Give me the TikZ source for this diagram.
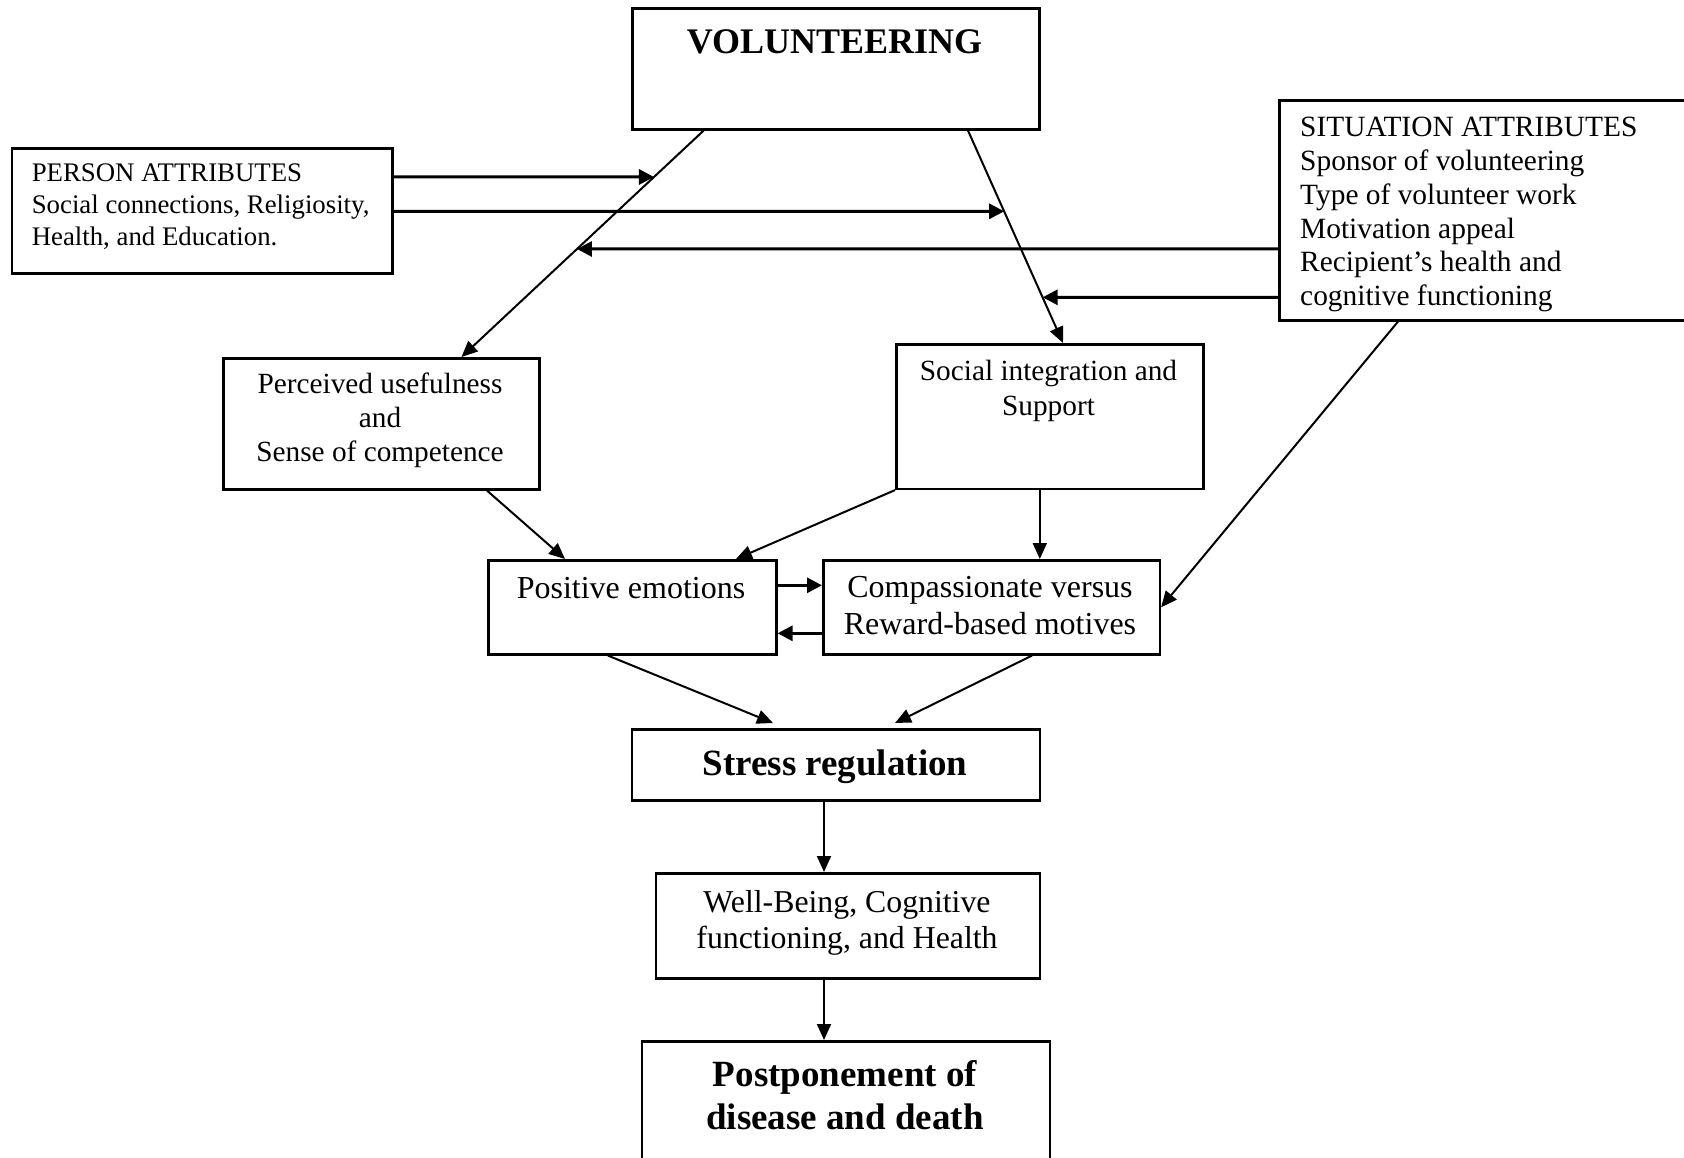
\documentclass[tikz,border=0pt]{standalone}
\usepackage{fontspec}
\setmainfont{Liberation Serif}
\usetikzlibrary{arrows.meta}
\begin{document}
\begin{tikzpicture}[x=1pt,y=-1pt,
 box/.style={draw, line width=2.6pt, inner sep=0pt, anchor=north west},
 txt/.style={inner sep=0pt, align=center},
 arr/.style={line width=2pt, -{Triangle[length=16pt,width=14pt]}},
 harr/.style={line width=3pt, -{Triangle[length=15pt,width=15pt]}}]
\useasboundingbox (0,0) rectangle (1684,1158);
\begin{scope}
\clip (0,0) rectangle (1684,1158);
% boxes
\node[box, minimum width=407pt, minimum height=121pt] (vol) at (631,7) {};
\node[box, minimum width=380.5pt, minimum height=125pt] (pa) at (10.5,147) {};
\node[box, minimum width=430pt, minimum height=220pt] (sa) at (1278,99) {};
\node[box, minimum width=316pt, minimum height=131pt] (pu) at (222,357) {};
\node[box, minimum width=307pt, minimum height=144.5pt] (si) at (895,343) {};
\node[box, minimum width=288pt, minimum height=94pt] (pe) at (487,559) {};
\node[box, minimum width=336.5pt, minimum height=94pt] (cm) at (822,559) {};
\node[box, minimum width=408pt, minimum height=71pt] (sr) at (630.7,728) {};
\node[box, minimum width=384pt, minimum height=105pt] (wb) at (654.7,872) {};
\node[box, minimum width=408pt, minimum height=160pt] (pd) at (640.7,1040) {};
% texts
\node[txt, anchor=base, font=\fontsize{36}{43}\selectfont\bfseries] (volt) at (834.5,54) {VOLUNTEERING};
\node[txt, anchor=north west, align=left, font=\fontsize{26.8}{31.7}\selectfont] (pat) at (31.6,164) {PERSON ATTRIBUTES\\Social connections, Religiosity,\\Health, and Education.};
\node[txt, anchor=north west, align=left, font=\fontsize{29.4}{33.9}\selectfont] (sat) at (1300,116.7) {SITUATION ATTRIBUTES\\Sponsor of volunteering\\Type of volunteer work\\Motivation appeal\\Recipient’s health and\\cognitive functioning};
\node[txt, anchor=north, font=\fontsize{29.3}{34}\selectfont] (put) at (380,373) {Perceived usefulness\\and\\Sense of competence};
\node[txt, anchor=north, font=\fontsize{29.3}{35}\selectfont] (sit) at (1048.5,360) {Social integration and\\Support};
\node[txt, anchor=base, font=\fontsize{32}{36.5}\selectfont] (pet) at (631,598.3) {Positive emotions};
\node[txt, anchor=north, font=\fontsize{32}{36.5}\selectfont] (cmt) at (990,576.5) {Compassionate versus\\Reward-based motives};
\node[txt, anchor=base, font=\fontsize{37}{43}\selectfont\bfseries] (srt) at (835,775) {Stress regulation};
\node[txt, anchor=north, font=\fontsize{31.8}{36.6}\selectfont] (wbt) at (847,890) {Well-Being, Cognitive\\functioning, and Health};
\node[txt, anchor=north, font=\fontsize{37}{43.7}\selectfont\bfseries] (pdt) at (845,1060) {Postponement of\\disease and death};
% helper coordinates
\coordinate (d1a) at ([xshift=72.6pt]vol.south west);
\coordinate (d1b) at ([xshift=239.5pt]pu.north west);
\coordinate (d2a) at ([xshift=337pt]vol.south west);
\coordinate (d2b) at ([xshift=168pt]si.north west);
\coordinate (p1) at ([yshift=33.8pt]pa.east);
\coordinate (p1r) at ([xshift=600pt]p1);
\coordinate (p2) at ([yshift=-0.5pt]pa.east);
\coordinate (p2r) at ([xshift=800pt]p2);
\coordinate (s1) at ([yshift=-38.7pt]sa.west);
\coordinate (s1l) at ([xshift=-900pt]s1);
\coordinate (s2) at ([yshift=-87pt]sa.west);
\coordinate (s2l) at ([xshift=-600pt]s2);
\coordinate (t1) at (intersection of d1a--d1b and p1--p1r);
\coordinate (t2) at (intersection of d2a--d2b and p2--p2r);
\coordinate (t3) at (intersection of d1a--d1b and s1--s1l);
\coordinate (t4) at (intersection of d2a--d2b and s2--s2l);
% connectors
\draw[arr] (d1a) -- (d1b);
\draw[arr] (d2a) -- (d2b);
\draw[harr] (p1) -- (t1);
\draw[harr] (p2) -- (t2);
\draw[harr] (s1) -- (t3);
\draw[harr] (s2) -- (t4);
\draw[arr] ([xshift=120pt]sa.south west) -- (cm.east);
\draw[arr] ([xshift=265pt]pu.south west) -- ([xshift=78pt]pe.north west);
\draw[arr] (si.south west) -- ([xshift=249pt]pe.north west);
\draw[arr] ([xshift=-10pt]si.south) -- ([xshift=-10pt]si.south |- cm.north);
\draw[harr] ([yshift=22pt]pe.east) -- ([yshift=22pt]cm.west);
\draw[harr] ([yshift=-26pt]cm.west) -- ([yshift=-26pt]pe.east);
\draw[arr] ([xshift=121pt]pe.south west) -- ([xshift=142.3pt,yshift=5pt]sr.north west);
\draw[arr] ([xshift=210pt]cm.south west) -- ([xshift=264.3pt,yshift=5pt]sr.north west);
\draw[arr] ([xshift=-12pt]sr.south) -- ([xshift=-12pt]sr.south |- wb.north);
\draw[arr] ([xshift=-12pt]sr.south |- wb.south) -- ([xshift=-12pt]sr.south |- pd.north);
\end{scope}
\end{tikzpicture}
\end{document}
